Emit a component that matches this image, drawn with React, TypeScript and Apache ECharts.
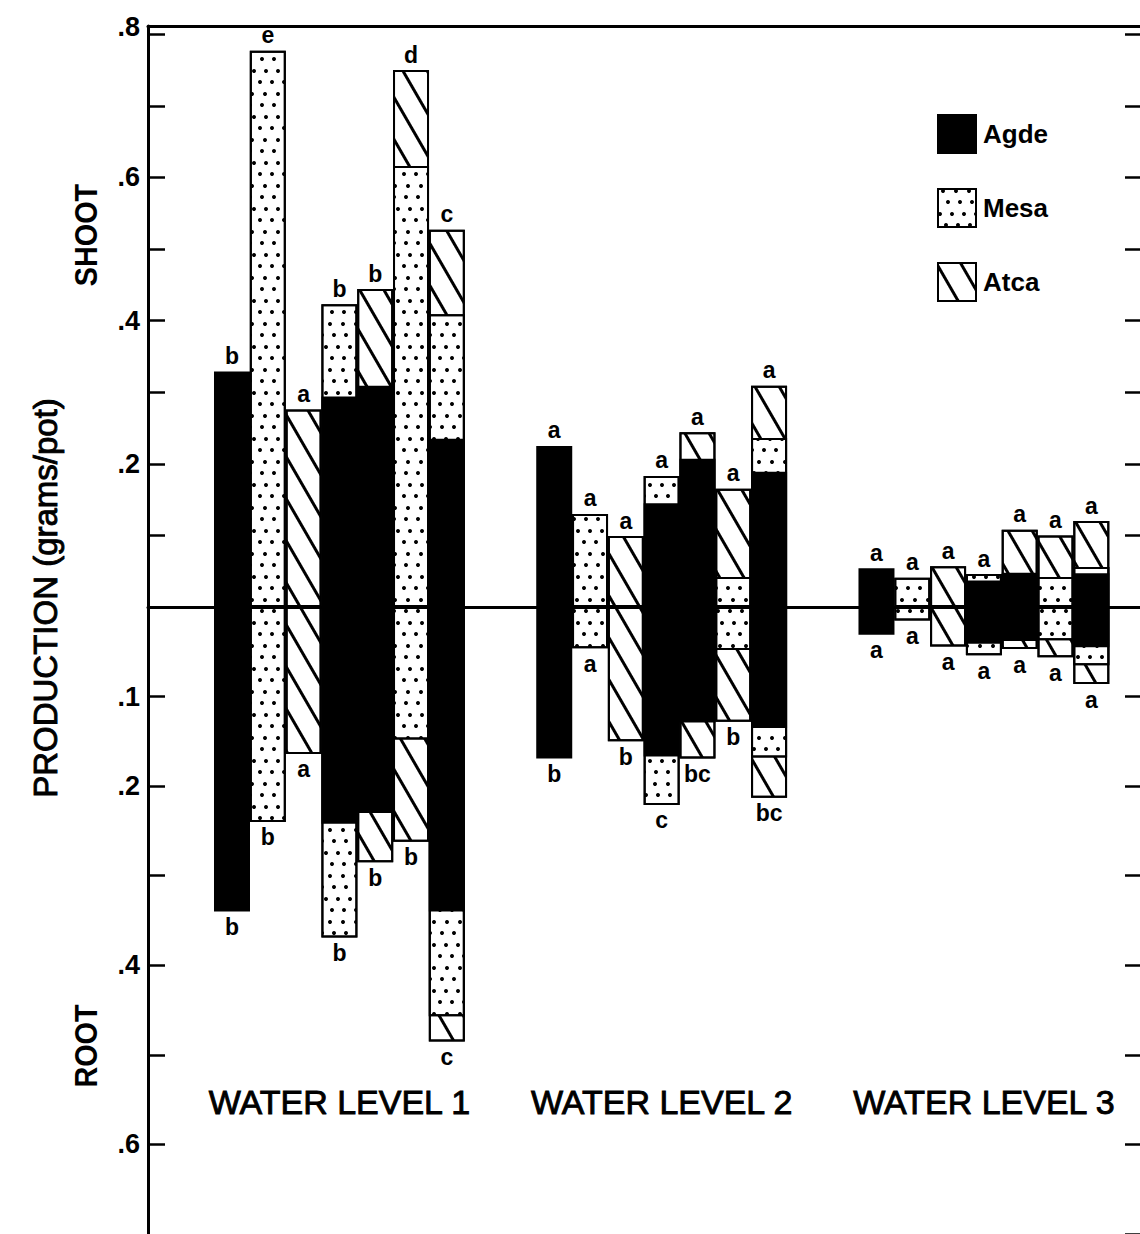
import React, { useEffect, useRef } from "react";
import * as echarts from "echarts";

// Bar slots on the x axis: three water levels, seven treatments each
const barSlots = [1, 2, 3, 4, 5, 6, 7, 10, 11, 12, 13, 14, 15, 16, 19, 20, 21, 22, 23, 24, 25];
const levelLabels = ["WATER LEVEL 1", "WATER LEVEL 2", "WATER LEVEL 3"];
const levelCenters = [4, 13, 22];
const legendNames = ["Agde", "Mesa", "Atca"];

// Shoot production (g/pot) contributed by each species, per treatment bar
const shootAgde = [0.329, null, null, 0.294, 0.309, null, 0.235, 0.225, null, null, 0.145, 0.207, null, 0.189, 0.054, null, null, 0.037, 0.048, null, 0.047];
const shootMesa = [null, 0.777, null, 0.129, null, 0.616, 0.174, null, 0.13, null, 0.038, null, 0.042, 0.047, null, 0.041, null, 0.009, null, 0.042, 0.009];
const shootAtca = [null, null, 0.276, null, 0.135, 0.134, 0.118, null, null, 0.099, null, 0.037, 0.123, 0.073, null, null, 0.057, null, 0.06, 0.058, 0.064];

// Root production (g/pot) contributed by each species, per treatment bar
const rootAgde = [0.34, null, null, 0.242, 0.23, null, 0.34, 0.169, null, null, 0.167, 0.129, null, 0.135, 0.031, null, null, 0.041, 0.038, null, 0.045];
const rootMesa = [null, 0.24, null, 0.127, null, 0.148, 0.117, null, 0.046, null, 0.054, null, 0.048, 0.033, null, 0.015, null, 0.013, null, 0.037, 0.02];
const rootAtca = [null, null, 0.164, null, 0.055, 0.114, 0.028, null, null, 0.15, null, 0.04, 0.08, 0.045, null, null, 0.044, null, 0.009, 0.019, 0.021];

// Significance letters above shoot bars and below root bars
const shootLetters = ["b", "e", "a", "b", "b", "d", "c", "a", "a", "a", "a", "a", "a", "a", "a", "a", "a", "a", "a", "a", "a"];
const rootLetters = ["b", "b", "a", "b", "b", "b", "c", "b", "a", "b", "c", "bc", "b", "bc", "a", "a", "a", "a", "a", "a", "a"];

// Tick labels
const shootTickValues = [0.2, 0.4, 0.6, 0.8];
const shootTickLabels = [".2", ".4", ".6", ".8"];
const rootTickValues = [0.1, 0.2, 0.4, 0.6];
const rootTickLabels = [".1", ".2", ".4", ".6"];

const FONT = "'Liberation Sans', Arial, sans-serif";
const X_MIN = -1.346;
const X_MAX = 26.36;
const SHOOT_MAX = 0.8115;
const ROOT_MAX = 0.7;

// Stipple: rows of dots with shifting offsets so the pattern looks scattered
const dotDecal = {
  symbol: "circle",
  symbolSize: 1,
  dashArrayX: [
    [3.2, 8],
    [0, 6, 3.2, 2],
    [0, 2.5, 3.2, 5.5],
    [0, 8, 3.2, 0],
  ],
  dashArrayY: [3.2, 6.2, 3.2, 7.6],
  rotation: 0,
  color: "#000",
  backgroundColor: "#fff",
};

const hatchDecal = {
  symbol: "rect",
  symbolSize: 1,
  dashArrayX: [1, 0],
  dashArrayY: [2.2, 18],
  rotation: Math.PI / 3,
  color: "#000",
  backgroundColor: "#fff",
};

type Vals = (number | null)[];

// Upper edge of each species' layer: Agde at the base, Mesa above it, Atca on top
const layerTops = (agde: Vals, mesa: Vals, atca: Vals) => {
  const agdeTop = agde.map((v) => v);
  const mesaTop = mesa.map((v, i) => (v == null ? null : (agde[i] || 0) + v));
  const atcaTop = atca.map((v, i) => (v == null ? null : (agde[i] || 0) + (mesa[i] || 0) + v));
  const total = barSlots.map((_, i) => (agde[i] || 0) + (mesa[i] || 0) + (atca[i] || 0));
  return { agdeTop, mesaTop, atcaTop, total };
};

const pairs = (vals: Vals) => barSlots.map((x, i) => [x, vals[i] == null ? "-" : vals[i]]);

const tickFormatter = (values: number[], labels: string[]) => (v: number) => {
  const k = Math.round(v * 10) / 10;
  if (Math.abs(v - k) > 1e-6) return "";
  const idx = values.findIndex((t) => Math.abs(t - k) < 1e-6);
  if (idx < 0) return "";
  return k === 0.8 ? "{top|" + labels[idx] + "}" : labels[idx];
};

const barStyle = (fill: string, decal: any) => ({
  color: fill,
  borderColor: "#000",
  borderWidth: 2,
  opacity: 1,
  ...(decal ? { decal } : {}),
});

export default function App() {
  const ref = useRef<HTMLDivElement>(null);

  useEffect(() => {
    document.body.style.margin = "0";
    if (!ref.current) return;
    const chart = echarts.init(ref.current, null, { renderer: "svg" });

    const axisLabelStyle = {
      fontFamily: FONT,
      fontSize: 27,
      fontWeight: "bold" as const,
      color: "#000",
      margin: 8,
    };

    const yLeft = (gridIndex: number, max: number, inverse: boolean, values: number[], labels: string[]) => ({
      gridIndex,
      type: "value",
      position: "left",
      min: 0,
      max,
      interval: 0.1,
      inverse,
      axisLine: { show: true, onZero: false, lineStyle: { color: "#000", width: 3 } },
      axisTick: { show: true, inside: true, length: 17, lineStyle: { color: "#000", width: 2.5 } },
      axisLabel: {
        ...axisLabelStyle,
        showMinLabel: false,
        showMaxLabel: false,
        formatter: tickFormatter(values, labels),
        rich: { top: { fontFamily: FONT, fontSize: 27, fontWeight: "bold", color: "#000", padding: [0, 0, 14, 0] } },
      },
      splitLine: { show: false },
    });

    const yRight = (gridIndex: number, max: number, inverse: boolean) => ({
      gridIndex,
      type: "value",
      position: "right",
      min: 0,
      max,
      interval: 0.1,
      inverse,
      axisLine: { show: false, onZero: false },
      axisTick: { show: true, inside: true, length: 15, lineStyle: { color: "#000", width: 2.5 } },
      axisLabel: { show: false },
      splitLine: { show: false },
    });

    const xAxisBase = {
      type: "value",
      min: X_MIN,
      max: X_MAX,
      axisTick: { show: false },
      axisLabel: { show: false },
      splitLine: { show: false },
    };

    const letterLabel = (position: string) => ({
      show: true,
      position,
      distance: 4,
      formatter: "{b}",
      fontFamily: FONT,
      fontSize: 23,
      fontWeight: "bold",
      color: "#000",
      opacity: 1,
    });

    const shoot = layerTops(shootAgde, shootMesa, shootAtca);
    const root = layerTops(rootAgde, rootMesa, rootAtca);

    const barCommon = { type: "bar", barWidth: 36, barGap: "-100%", silent: true };

    // Layers are overlaid back to front: Atca (full height), then Mesa, then Agde
    const layerSeries = (layers: ReturnType<typeof layerTops>, xi: number, yi: number) => [
      { ...barCommon, name: "Atca", xAxisIndex: xi, yAxisIndex: yi, data: pairs(layers.atcaTop), itemStyle: barStyle("#fff", hatchDecal) },
      { ...barCommon, name: "Mesa", xAxisIndex: xi, yAxisIndex: yi, data: pairs(layers.mesaTop), itemStyle: barStyle("#fff", dotDecal) },
      { ...barCommon, name: "Agde", xAxisIndex: xi, yAxisIndex: yi, data: pairs(layers.agdeTop), itemStyle: barStyle("#000", null) },
    ];

    chart.setOption({
      animation: false,
      backgroundColor: "#fff",
      grid: [
        { left: 148, right: 0, top: 26, height: 581 },
        { left: 148, right: 0, top: 607, height: 627 },
      ],
      legend: {
        data: legendNames,
        orient: "vertical",
        left: 932,
        top: 109,
        itemWidth: 38,
        itemHeight: 38,
        itemGap: 34,
        icon: "rect",
        selectedMode: false,
        textStyle: { fontFamily: FONT, fontSize: 26, fontWeight: "bold", color: "#000", padding: [0, 0, 0, 2] },
      },
      xAxis: [
        { ...xAxisBase, gridIndex: 0, position: "bottom", axisLine: { show: true, onZero: false, lineStyle: { color: "#000", width: 3 } } },
        { ...xAxisBase, gridIndex: 0, position: "top", axisLine: { show: true, onZero: false, lineStyle: { color: "#000", width: 3 } } },
        { ...xAxisBase, gridIndex: 1, show: false },
      ],
      yAxis: [
        yLeft(0, SHOOT_MAX, false, shootTickValues, shootTickLabels),
        yRight(0, SHOOT_MAX, false),
        yLeft(1, ROOT_MAX, true, rootTickValues, rootTickLabels),
        yRight(1, ROOT_MAX, true),
      ],
      series: [
        ...layerSeries(shoot, 0, 0),
        ...layerSeries(root, 2, 2),
        {
          type: "scatter",
          name: "shootLetters",
          xAxisIndex: 0,
          yAxisIndex: 0,
          symbolSize: 0,
          silent: true,
          z: 5,
          itemStyle: { opacity: 1 },
          data: barSlots.map((x, i) => ({ name: shootLetters[i], value: [x, shoot.total[i]] })),
          label: letterLabel("top"),
        },
        {
          type: "scatter",
          name: "rootLetters",
          xAxisIndex: 2,
          yAxisIndex: 2,
          symbolSize: 0,
          silent: true,
          z: 5,
          itemStyle: { opacity: 1 },
          data: barSlots.map((x, i) => ({ name: rootLetters[i], value: [x, root.total[i]] })),
          label: letterLabel("bottom"),
        },
      ],
    });

    const levelX = levelCenters.map((c) => chart.convertToPixel({ xAxisIndex: 0 }, c) as number);

    // Hand-lettered titles are a little heavier than the regular face
    const lettering = { fontFamily: FONT, fill: "#000", stroke: "#000", lineWidth: 0.9, align: "center", verticalAlign: "middle" };

    chart.setOption({
      graphic: [
        {
          type: "text",
          x: 45,
          y: 598,
          rotation: Math.PI / 2,
          style: { ...lettering, text: "PRODUCTION (grams/pot)", fontSize: 33 },
        },
        {
          type: "text",
          x: 85,
          y: 235,
          rotation: Math.PI / 2,
          scaleX: 0.9,
          style: { text: "SHOOT", fontFamily: FONT, fontSize: 32, fontWeight: "bold", fill: "#000", align: "center", verticalAlign: "middle" },
        },
        {
          type: "text",
          x: 85,
          y: 1046,
          rotation: Math.PI / 2,
          scaleX: 0.9,
          style: { text: "ROOT", fontFamily: FONT, fontSize: 32, fontWeight: "bold", fill: "#000", align: "center", verticalAlign: "middle" },
        },
        ...levelLabels.map((t, i) => ({
          type: "text",
          x: levelX[i],
          y: 1102,
          scaleX: 1.0,
          style: { ...lettering, text: t, fontSize: 34 },
        })),
      ],
    });

    return () => chart.dispose();
  }, []);

  return <div ref={ref} style={{ width: 1140, height: 1234 }} />;
}
